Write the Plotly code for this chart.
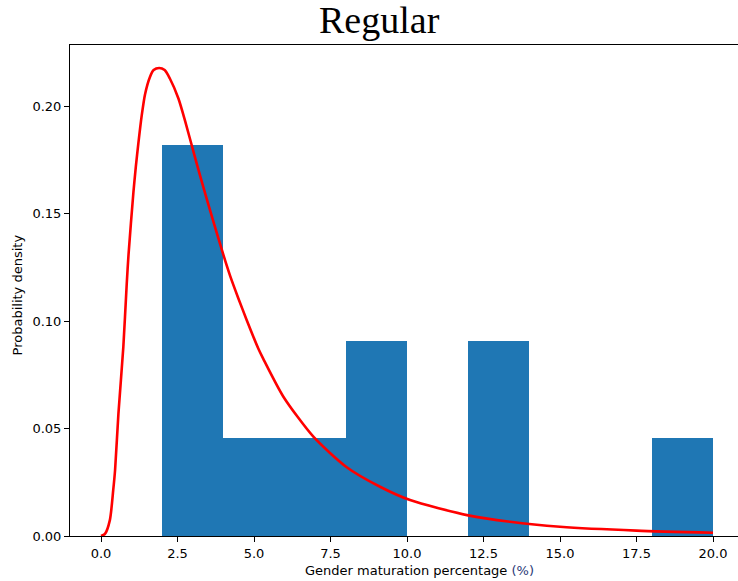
import plotly.graph_objects as go

# Histogram (density) bins
bin_left = [2, 4, 6, 8, 10, 12, 14, 16, 18]
bin_width = 2
density = [0.1818, 0.04545, 0.04545, 0.0909, 0.0, 0.0909, 0.0, 0.0, 0.04545]

# Fitted probability density curve
curve_x = [0.0, 0.13, 0.29, 0.40, 0.46, 0.57, 0.73, 0.84, 0.90, 1.06, 1.14, 1.22, 1.33,
           1.44, 1.60, 1.72, 1.90, 2.08, 2.25, 2.53, 2.75, 3.07, 3.45, 3.94, 4.22, 4.49,
           4.76, 5.14, 5.30, 5.96, 6.94, 8.03, 9.12, 10.1, 12.0, 13.37, 15.0, 17.5, 20.0]
curve_y = [0.0, 0.001, 0.0074, 0.0214, 0.0307, 0.057, 0.088, 0.117, 0.131, 0.160, 0.172,
           0.1825, 0.1955, 0.2055, 0.2135, 0.2167, 0.2177, 0.2167, 0.2128, 0.2035, 0.193,
           0.1762, 0.157, 0.1335, 0.121, 0.1105, 0.1005, 0.0872, 0.0825, 0.0648, 0.0462,
           0.0320, 0.0229, 0.0167, 0.0096, 0.0066, 0.0043, 0.0025, 0.0015]

x_ticks = [0, 2.5, 5, 7.5, 10, 12.5, 15, 17.5, 20]
x_tick_labels = ["0.0", "2.5", "5.0", "7.5", "10.0", "12.5", "15.0", "17.5", "20.0"]
y_ticks = [0, 0.05, 0.10, 0.15, 0.20]
y_tick_labels = ["0.00", "0.05", "0.10", "0.15", "0.20"]

W, H = 738, 581
L, R, T, B = 70, 0, 45, 45
px_per_x = 30.6
x0_px = 101
px_per_y = 2150

x_range = [(L - x0_px) / px_per_x, (W - R - x0_px) / px_per_x]
y_range = [0, (H - B - T) / px_per_y]

fig = go.Figure()
fig.add_trace(go.Bar(
    x=[b + bin_width / 2 for b in bin_left],
    y=density,
    width=[bin_width] * len(bin_left),
    marker=dict(color="#1f77b4", line=dict(width=0)),
    showlegend=False,
    hoverinfo="skip",
))
fig.add_trace(go.Scatter(
    x=curve_x, y=curve_y, mode="lines",
    line=dict(color="red", width=2.6, shape="spline", smoothing=0.7),
    showlegend=False, hoverinfo="skip",
))

tick_font = dict(family="DejaVu Sans", size=13, color="#000000")
fig.update_layout(
    width=W, height=H,
    margin=dict(l=L, r=R, t=T, b=B, pad=0),
    paper_bgcolor="white", plot_bgcolor="white",
    bargap=0,
    xaxis=dict(range=x_range, tickvals=x_ticks, ticktext=x_tick_labels,
               showgrid=False, zeroline=False, showline=True, mirror=True,
               linecolor="#000000", linewidth=1.1,
               ticks="outside", ticklen=5, tickwidth=1.1, tickcolor="#000000",
               tickfont=tick_font),
    yaxis=dict(range=y_range, tickvals=y_ticks, ticktext=y_tick_labels,
               showgrid=False, zeroline=False, showline=True, mirror=False,
               linecolor="#000000", linewidth=1.1,
               ticks="outside", ticklen=5, tickwidth=1.1, tickcolor="#000000",
               tickfont=tick_font),
    annotations=[
        dict(text="Regular", xref="paper", yref="paper",
             x=(379 - L) / (W - L - R), y=1 + (T - 20) / (H - T - B),
             xanchor="center", yanchor="middle", showarrow=False,
             font=dict(family="Liberation Serif", size=38, color="#000000")),
        dict(text="Gender maturation percentage <span style='color:#2b3a78'>(%)</span>",
             xref="paper", yref="paper",
             x=(419 - L) / (W - L - R), y=-(570 - (H - B)) / (H - T - B),
             xanchor="center", yanchor="middle", showarrow=False,
             font=dict(family="DejaVu Sans", size=13, color="#000000")),
        dict(text="Probability density", xref="paper", yref="paper",
             x=-(L - 17) / (W - L - R), y=0.49, textangle=-90,
             xanchor="center", yanchor="middle", showarrow=False,
             font=dict(family="DejaVu Sans", size=13, color="#000000")),
    ],
)

fig.write_html("out.html", config={"displayModeBar": False},
               post_script="document.body.style.margin='0';document.body.style.overflow='hidden';")
